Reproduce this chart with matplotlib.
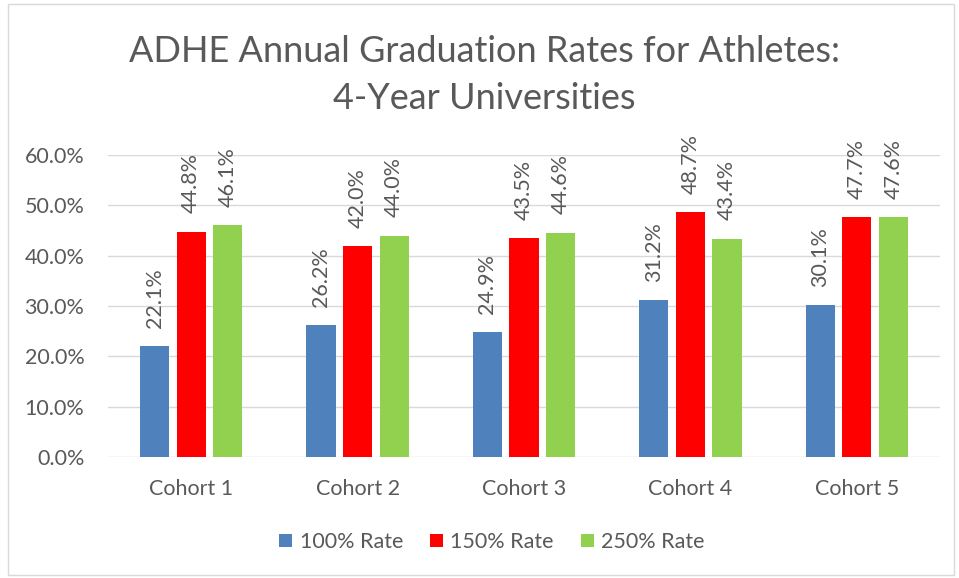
import matplotlib
matplotlib.use("Agg")
import matplotlib.pyplot as plt
import numpy as np
from matplotlib.patches import Rectangle

categories = ["Cohort 1", "Cohort 2", "Cohort 3", "Cohort 4", "Cohort 5"]
series_names = ["100% Rate", "150% Rate", "250% Rate"]
rate_100 = [22.1, 26.2, 24.9, 31.2, 30.1]
rate_150 = [44.8, 42.0, 43.5, 48.7, 47.7]
rate_250 = [46.1, 44.0, 44.6, 43.4, 47.6]
colors = ["#4F81BD", "#FF0000", "#92D050"]
yticks = [0, 10, 20, 30, 40, 50, 60]

plt.rcParams['font.family'] = ['Lato', 'DejaVu Sans']
text_color = "#595959"
fs = 15.5

fig = plt.figure(figsize=(9.59, 5.78), dpi=100)
ax = fig.add_axes([108/959, 1-457/578, (940-108)/959, (457-155)/578])

x = np.arange(len(categories))
width = 0.175
step = 0.22
for i, (vals, name, c) in enumerate(zip([rate_100, rate_150, rate_250], series_names, colors)):
    pos = x + (i - 1) * step
    ax.bar(pos, vals, width=width, color=c, label=name, zorder=3)
    for p, v in zip(pos, vals):
        ax.annotate(f"{v:.1f}%", xy=(p, v), xytext=(0, 13), textcoords="offset points",
                    rotation=90, ha="center", va="bottom", fontsize=fs, color=text_color)

ax.set_xlim(-0.5, len(categories) - 0.5)
ax.set_ylim(0, 60)
ax.set_yticks(yticks)
ax.set_yticklabels([f"{t:.1f}%" for t in yticks], fontsize=fs, color=text_color)
ax.set_xticks(x)
ax.set_xticklabels(categories, fontsize=fs, color=text_color)
ax.tick_params(axis="both", length=0)
ax.tick_params(axis="y", pad=17)
ax.tick_params(axis="x", pad=16)
ax.grid(axis="y", color="#D9D9D9", linewidth=1, zorder=0)
for s in ax.spines.values():
    s.set_visible(False)

fig.text(0.505, 1 - 75/578, "ADHE Annual Graduation Rates for Athletes:\n4-Year Universities",
         ha="center", va="center", fontsize=26, color=text_color, linespacing=1.55)

leg = fig.legend(loc="center", bbox_to_anchor=(492/959, 1 - 542/578), ncol=3, frameon=False,
                 fontsize=fs, handlelength=0.6, handleheight=0.6, columnspacing=1.25,
                 handletextpad=0.35)
for t in leg.get_texts():
    t.set_color(text_color)

fig.patches.append(Rectangle((8/959, 3/578), (954-8)/959, (574-3)/578, transform=fig.transFigure,
                             fill=False, edgecolor="#D9D9D9", linewidth=1))

fig.savefig("out.png", dpi=100)
